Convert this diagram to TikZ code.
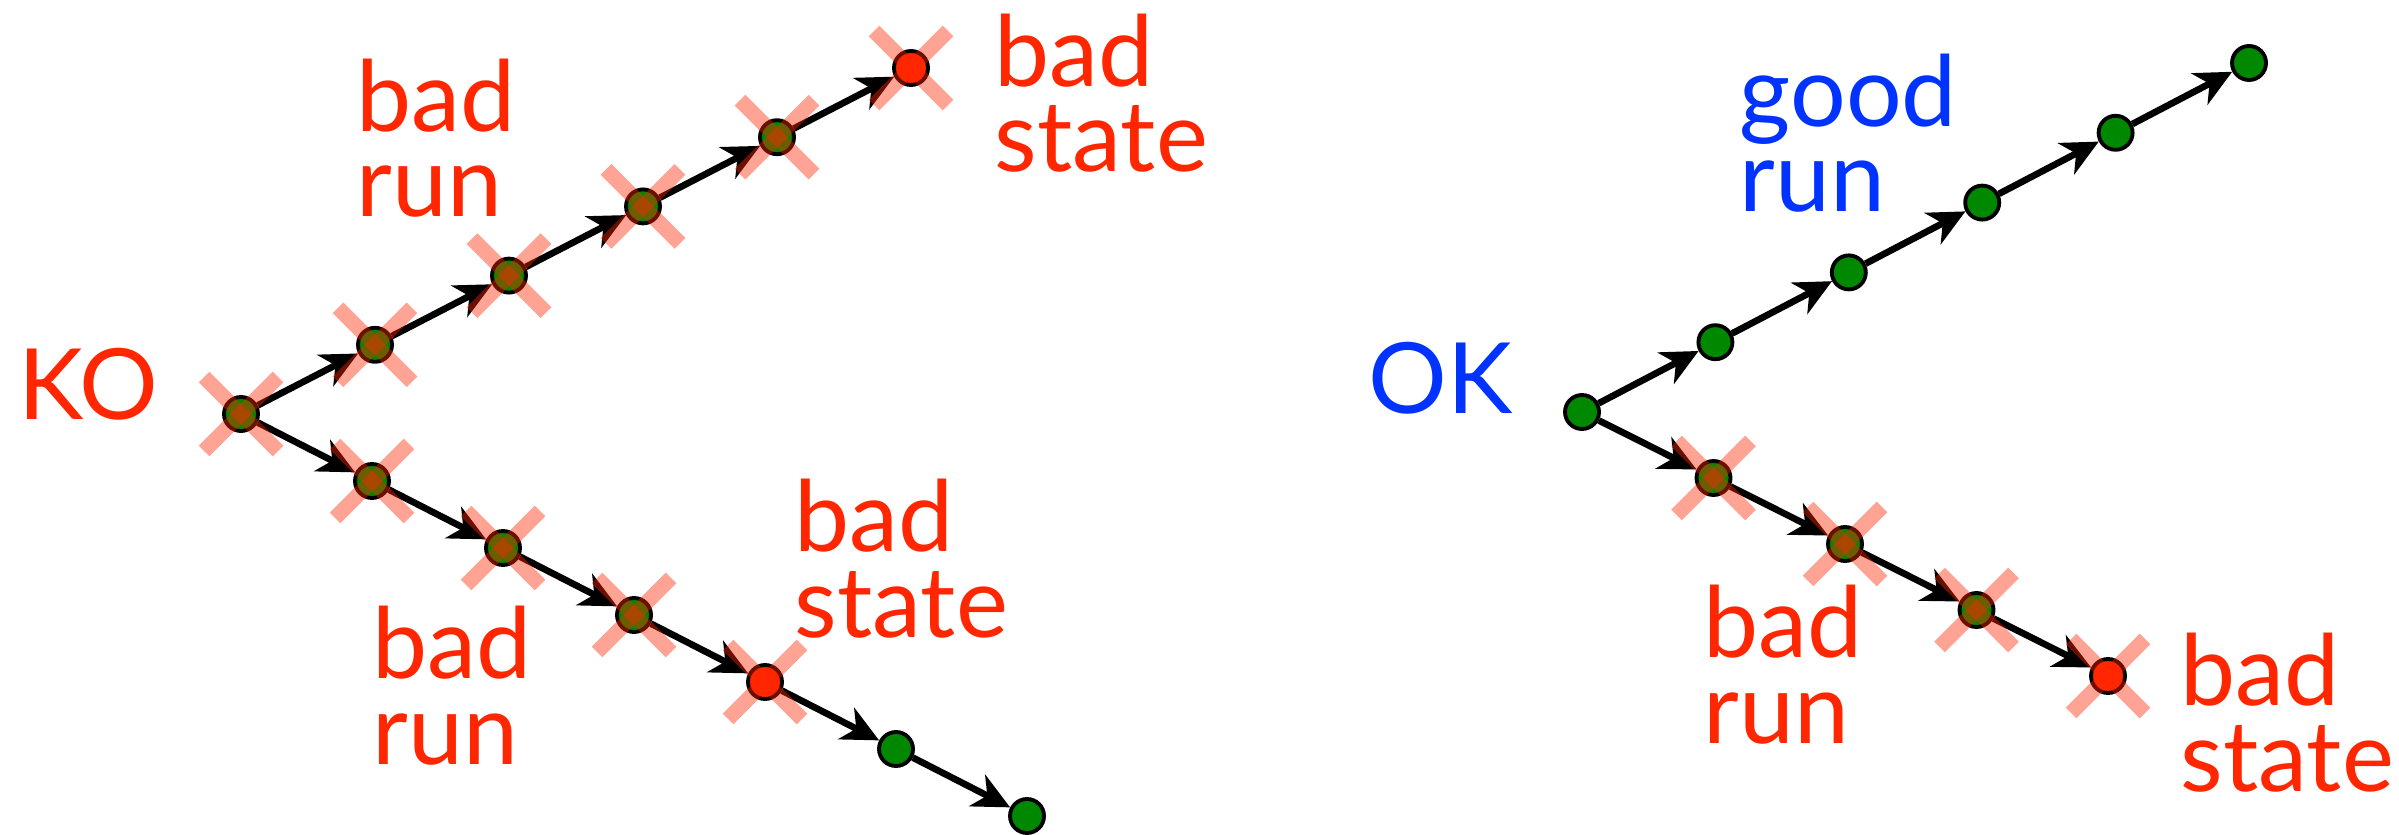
\documentclass[tikz,border=0pt]{standalone}
\usepackage{xcolor}
\usepackage{fontspec}
\setmainfont{Lato}
\usepackage{tikz}
\usetikzlibrary{positioning, arrows.meta}
\definecolor{badred}{RGB}{255,38,0}
\definecolor{goodblue}{RGB}{0,51,255}
\definecolor{stategreen}{RGB}{0,136,0}
\newcommand{\knockout}[1]{%
  \draw[cut] ([shift={(-0.37,-0.37)}]#1.center) -- ([shift={(0.37,0.37)}]#1.center);
  \draw[cut] ([shift={(-0.37,0.37)}]#1.center) -- ([shift={(0.37,-0.37)}]#1.center);}

\begin{document}
\begin{tikzpicture}[on grid,
  greenstate/.style={circle, draw, line width=1.1pt, fill=stategreen, minimum size=0.34cm, inner sep=0pt},
  redstate/.style={greenstate, fill=badred},
  runtext/.style={anchor=base west, inner sep=0pt, align=left, font=\fontsize{28}{24.2}\selectfont},
  cut/.style={draw=badred, draw opacity=0.42, line width=4.3pt},
  move/.style={-{Stealth[length=10.5pt, width=10pt, inset=3.2pt]}, line width=1.9pt}]
\useasboundingbox (0,0) rectangle (23.99,8.34);

% KO side
\node[greenstate] (k0) at (2.41,4.20) {};
\node[greenstate, above right=0.692cm and 1.34cm of k0] (u1) {};
\node[greenstate, above right=0.692cm and 1.34cm of u1] (u2) {};
\node[greenstate, above right=0.692cm and 1.34cm of u2] (u3) {};
\node[greenstate, above right=0.692cm and 1.34cm of u3] (u4) {};
\node[redstate, above right=0.692cm and 1.34cm of u4] (u5) {};
\node[greenstate, below right=0.67cm and 1.31cm of k0] (l1) {};
\node[greenstate, below right=0.67cm and 1.31cm of l1] (l2) {};
\node[greenstate, below right=0.67cm and 1.31cm of l2] (l3) {};
\node[redstate, below right=0.67cm and 1.31cm of l3] (l4) {};
\node[greenstate, below right=0.67cm and 1.31cm of l4] (l5) {};
\node[greenstate, below right=0.67cm and 1.31cm of l5] (l6) {};

\draw[move] (k0) -- (u1);
\draw[move] (u1) -- (u2);
\draw[move] (u2) -- (u3);
\draw[move] (u3) -- (u4);
\draw[move] (u4) -- (u5);
\draw[move] (k0) -- (l1);
\draw[move] (l1) -- (l2);
\draw[move] (l2) -- (l3);
\draw[move] (l3) -- (l4);
\draw[move] (l4) -- (l5);
\draw[move] (l5) -- (l6);

\knockout{k0}
\knockout{u1}
\knockout{u2}
\knockout{u3}
\knockout{u4}
\knockout{u5}
\knockout{l1}
\knockout{l2}
\knockout{l3}
\knockout{l4}

% the base of a two-line text is its second line
\node[runtext, text=badred] (ko) at (0.18,4.14) {KO};
\node[runtext, text=badred] (badrunup) at (3.56,6.17) {bad\\run};
\node[runtext, text=badred] (badstateup) at (9.94,6.62) {bad\\state};
\node[runtext, text=badred] (badrundown) at (3.72,0.70) {bad\\run};
\node[runtext, text=badred] (badstatedown) at (7.94,1.97) {bad\\state};

% OK side
\node[greenstate] (o0) at (15.82,4.22) {};
\node[greenstate, above right=0.698cm and 1.334cm of o0] (g1) {};
\node[greenstate, above right=0.698cm and 1.334cm of g1] (g2) {};
\node[greenstate, above right=0.698cm and 1.334cm of g2] (g3) {};
\node[greenstate, above right=0.698cm and 1.334cm of g3] (g4) {};
\node[greenstate, above right=0.698cm and 1.334cm of g4] (g5) {};
\node[greenstate, below right=0.66cm and 1.315cm of o0] (b1) {};
\node[greenstate, below right=0.66cm and 1.315cm of b1] (b2) {};
\node[greenstate, below right=0.66cm and 1.315cm of b2] (b3) {};
\node[redstate, below right=0.66cm and 1.315cm of b3] (b4) {};

\draw[move] (o0) -- (g1);
\draw[move] (g1) -- (g2);
\draw[move] (g2) -- (g3);
\draw[move] (g3) -- (g4);
\draw[move] (g4) -- (g5);
\draw[move] (o0) -- (b1);
\draw[move] (b1) -- (b2);
\draw[move] (b2) -- (b3);
\draw[move] (b3) -- (b4);

\knockout{b1}
\knockout{b2}
\knockout{b3}
\knockout{b4}

\node[runtext, text=goodblue] (ok) at (13.68,4.20) {OK};
\node[runtext, text=goodblue] (goodrun) at (17.39,6.22) {good\\run};
\node[runtext, text=badred] (badrunright) at (17.03,0.91) {bad\\run};
\node[runtext, text=badred] (badstateright) at (21.80,0.43) {bad\\state};
\end{tikzpicture}
\end{document}
